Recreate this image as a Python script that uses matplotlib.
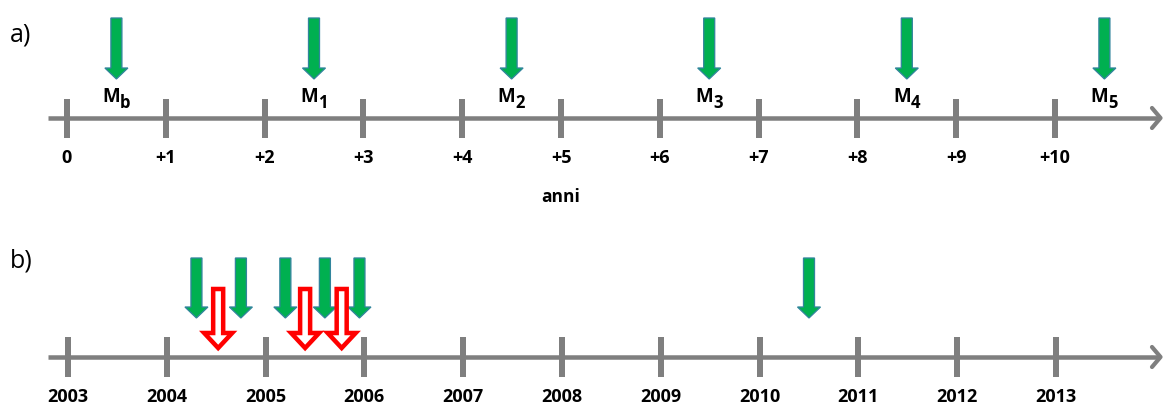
import matplotlib
matplotlib.use("Agg")
import matplotlib.pyplot as plt
from matplotlib.patches import FancyArrow

plt.rcParams['font.family'] = ['Open Sans', 'DejaVu Sans']

# ---- data ----
top_ticks = list(range(0, 11))
top_labels = ['0', '+1', '+2', '+3', '+4', '+5', '+6', '+7', '+8', '+9', '+10']
top_arrows = [0.5, 2.5, 4.5, 6.5, 8.5, 10.5]
top_names = ['b', '1', '2', '3', '4', '5']
axis_title = 'anni'

bottom_years = list(range(2003, 2014))
bottom_labels = [str(y) for y in bottom_years]
green_years = [2004.3, 2004.75, 2005.2, 2005.6, 2005.95, 2010.5]
red_years = [2004.52, 2005.4, 2005.77]
panel_labels = ['a)', 'b)']

# ---- layout ----
W, H, DPI = 1163, 405, 100
PX = 98.8          # pixels per year
X0 = 67            # pixel of first tick
GRAY = '#7F7F7F'
GREEN = '#00B050'
GEDGE = '#31859C'
RED = '#FF0000'

fig = plt.figure(figsize=(W / DPI, H / DPI), dpi=DPI)
ax = fig.add_axes([0, 0, 1, 1])
ax.set_xlim(-X0 / PX, (W - X0) / PX)
ax.set_ylim(H, 0)
ax.axis('off')

def px2x(p):
    return (p - X0) / PX

pt = 72 / DPI  # points per pixel

def timeline(yc, ticks, labels, label_base, tick_half=19.5):
    ax.plot([px2x(48), px2x(1160)], [yc, yc], color=GRAY, lw=4.5 * pt,
            solid_capstyle='butt', zorder=1)
    ax.plot([px2x(1152), px2x(1160.5), px2x(1152)], [yc - 10, yc, yc + 10],
            color=GRAY, lw=4.2 * pt, solid_capstyle='round',
            solid_joinstyle='round', zorder=1)
    ax.vlines(ticks, yc - tick_half, yc + tick_half, color=GRAY,
              lw=6 * pt, zorder=1)
    for t, lab in zip(ticks, labels):
        ax.text(t, label_base, lab, ha='center', va='baseline',
                fontsize=13, fontweight='bold', color='black')

def arrow(x, ytop, ybot, shaft, head, hlen, fc, ec, lw):
    a = FancyArrow(x, ytop, 0, ybot - ytop, width=shaft / PX,
                   head_width=head / PX, head_length=hlen,
                   length_includes_head=True, facecolor=fc,
                   edgecolor=ec, lw=lw * pt, zorder=3)
    ax.add_patch(a)

# panel a
timeline(118, top_ticks, top_labels, 163)
for x, nm in zip(top_arrows, top_names):
    arrow(x, 18, 79, 11, 23, 11, GREEN, GEDGE, 1.3)
    ax.text(x - 5 / PX, 102, 'M', ha='center', va='baseline',
            fontsize=13.5, fontweight='bold')
    ax.text(x + 8.5 / PX, 108, nm, ha='center', va='baseline',
            fontsize=12, fontweight='bold')
ax.text(px2x(561), 202, axis_title, ha='center', va='baseline',
        fontsize=12.5, fontweight='bold')

# panel b
bx = [y - 2003 + 1 / PX for y in bottom_years]
timeline(357, bx, bottom_labels, 402, tick_half=20)
for y in green_years:
    arrow(y - 2003 + 1 / PX, 258, 318, 11, 23, 11, GREEN, GEDGE, 1.3)
for y in red_years:
    arrow(y - 2003 + 1 / PX, 289, 348, 10, 28, 15, 'white', RED, 4.5)

ax.text(px2x(10), 42, panel_labels[0], ha='left', va='baseline', fontsize=18)
ax.text(px2x(10), 267, panel_labels[1], ha='left', va='baseline', fontsize=18)

fig.savefig('out.png', dpi=DPI)
